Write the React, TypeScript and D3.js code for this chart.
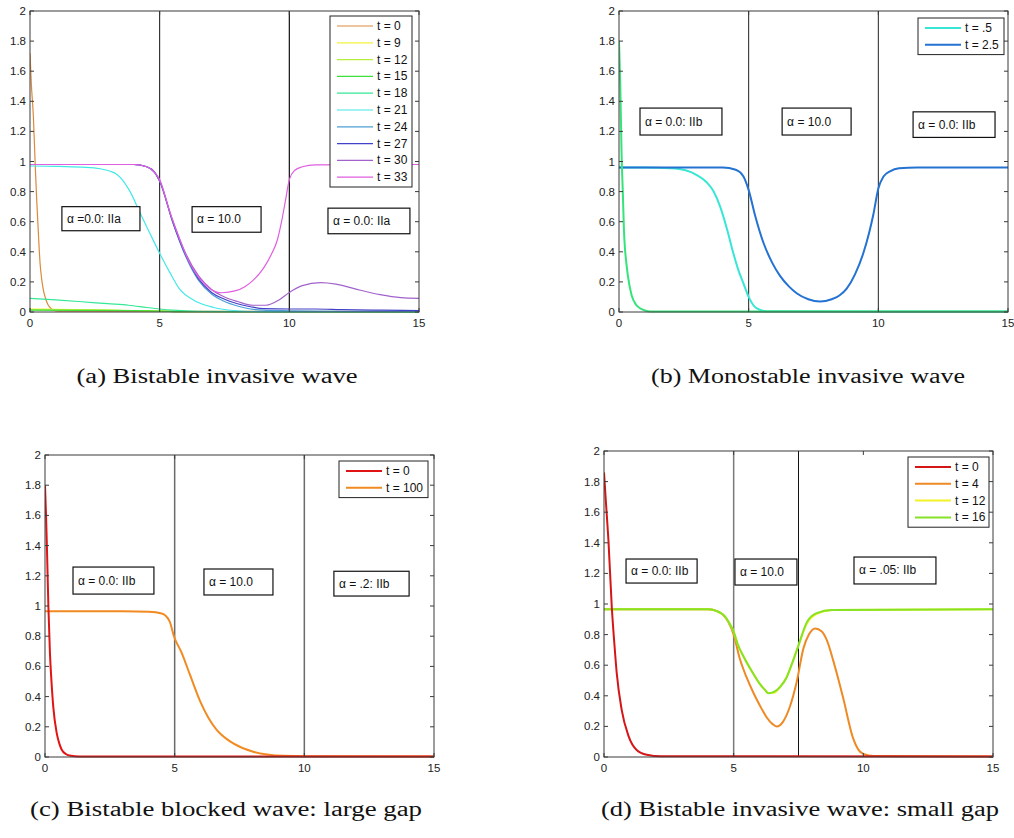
import React from 'react';
import * as d3 from 'd3';

type Pt = [number, number];

const xTickValues = [0, 5, 10, 15];
const xTickLabels = ['0', '5', '10', '15'];
const yTickValues = [0, 0.2, 0.4, 0.6, 0.8, 1, 1.2, 1.4, 1.6, 1.8, 2];
const yTickLabels = ['0', '0.2', '0.4', '0.6', '0.8', '1', '1.2', '1.4', '1.6', '1.8', '2'];

// (a) bistable invasive wave
const aLabels = ['t = 0', 't = 9', 't = 12', 't = 15', 't = 18', 't = 21', 't = 24', 't = 27', 't = 30', 't = 33'];
const aT0: Pt[] = [[0, 1.72], [0.05, 1.52], [0.13, 1.3], [0.2, 0.98], [0.26, 0.74], [0.33, 0.5], [0.39, 0.32], [0.45, 0.22], [0.51, 0.15], [0.6, 0.09], [0.69, 0.05], [0.8, 0.025], [0.9, 0.012], [1.1, 0.005], [15, 0.003]];
const aT9: Pt[] = [[0, 0.02], [1, 0.018], [3, 0.012], [5, 0.006], [6, 0.002], [15, 0.001]];
const aT12: Pt[] = [[0, 0.016], [2, 0.014], [4, 0.01], [5, 0.006], [6, 0.002], [15, 0.001]];
const aT15: Pt[] = [[0, 0.012], [2, 0.011], [4, 0.009], [5, 0.006], [6, 0.002], [15, 0.001]];
const aT18: Pt[] = [[0, 0.09], [1, 0.08], [2, 0.068], [3, 0.055], [3.8, 0.045], [4.5, 0.03], [5, 0.02], [5.5, 0.012], [6.5, 0.004], [8, 0.002], [15, 0.001]];
const aT21: Pt[] = [[0, 0.97], [1, 0.968], [2, 0.962], [2.7, 0.952], [3.1, 0.935], [3.34, 0.915], [3.6, 0.87], [3.86, 0.8], [4.24, 0.66], [4.63, 0.52], [5.0, 0.39], [5.4, 0.26], [5.78, 0.15], [6.3, 0.08], [7.08, 0.03], [7.85, 0.01], [9, 0.003], [15, 0.002]];
const aT24: Pt[] = [[0, 0.98], [4, 0.98], [4.5, 0.965], [4.8, 0.93], [5, 0.87], [5.5, 0.6], [6, 0.37], [6.5, 0.21], [7, 0.12], [7.5, 0.07], [8, 0.04], [8.5, 0.02], [9, 0.012], [10, 0.008], [12, 0.005], [15, 0.004]];
const aT27: Pt[] = [[0, 0.98], [4, 0.98], [4.5, 0.965], [4.8, 0.93], [5, 0.87], [5.5, 0.6], [6, 0.38], [6.5, 0.22], [7, 0.13], [7.5, 0.085], [8, 0.055], [8.5, 0.035], [9, 0.022], [10, 0.02], [11, 0.02], [12, 0.016], [13.5, 0.012], [15, 0.01]];
const aT30: Pt[] = [[0, 0.98], [4, 0.98], [4.5, 0.965], [4.8, 0.93], [5, 0.87], [5.5, 0.61], [6, 0.39], [6.5, 0.24], [7, 0.15], [7.5, 0.1], [8, 0.07], [8.6, 0.045], [9.1, 0.045], [9.6, 0.08], [10, 0.13], [10.5, 0.175], [11.2, 0.195], [11.8, 0.185], [12.5, 0.155], [13.5, 0.115], [14.3, 0.095], [15, 0.09]];
const aT33: Pt[] = [[0, 0.98], [4, 0.98], [4.5, 0.965], [4.8, 0.93], [5, 0.88], [5.4, 0.66], [5.78, 0.48], [6.17, 0.32], [6.55, 0.22], [6.94, 0.155], [7.4, 0.128], [7.9, 0.14], [8.3, 0.17], [8.6, 0.21], [9.0, 0.29], [9.3, 0.38], [9.54, 0.48], [9.7, 0.6], [9.85, 0.74], [10, 0.88], [10.2, 0.94], [10.5, 0.965], [11, 0.978], [15, 0.98]];
const aNotes = ['\u03b1 =0.0: IIa', '\u03b1 = 10.0', '\u03b1 = 0.0: IIa'];

// (b) monostable invasive wave
const bLabels = ['t = .5', 't = 2.5'];
const bStart: Pt[] = [[0, 1.8], [0.05, 1.5], [0.1, 1.05], [0.15, 0.78], [0.19, 0.55], [0.3, 0.3], [0.4, 0.18], [0.49, 0.11], [0.65, 0.05], [0.81, 0.025], [1.0, 0.01], [1.2, 0.004], [15, 0.003]];
const bT05: Pt[] = [[0, 0.96], [1, 0.96], [2, 0.955], [2.6, 0.94], [3.0, 0.91], [3.38, 0.862], [3.65, 0.8], [3.9, 0.7], [4.15, 0.56], [4.41, 0.39], [4.6, 0.28], [4.8, 0.19], [5.0, 0.1], [5.3, 0.025], [5.7, 0.005], [15, 0.003]];
const bT25: Pt[] = [[0, 0.96], [4, 0.96], [4.5, 0.945], [4.8, 0.9], [5.0, 0.81], [5.25, 0.64], [5.57, 0.46], [5.9, 0.33], [6.21, 0.24], [6.55, 0.17], [6.85, 0.125], [7.3, 0.085], [7.75, 0.07], [8.2, 0.085], [8.5, 0.11], [8.78, 0.155], [9.1, 0.25], [9.42, 0.39], [9.65, 0.53], [9.81, 0.65], [10.0, 0.82], [10.2, 0.9], [10.45, 0.935], [10.8, 0.955], [11.5, 0.96], [15, 0.96]];
const bNotes = ['\u03b1 = 0.0: IIb', '\u03b1 = 10.0', '\u03b1 = 0.0: IIb'];

// (c) bistable blocked wave: large gap
const cLabels = ['t = 0', 't = 100'];
const cT0: Pt[] = [[0, 1.8], [0.04, 1.6], [0.08, 1.35], [0.13, 1.0], [0.19, 0.69], [0.25, 0.5], [0.32, 0.33], [0.45, 0.16], [0.55, 0.09], [0.64, 0.05], [0.8, 0.02], [1.0, 0.008], [1.3, 0.004], [15, 0.004]];
const cT100: Pt[] = [[0, 0.965], [3, 0.965], [4, 0.962], [4.5, 0.95], [4.8, 0.9], [4.97, 0.8], [5.27, 0.69], [5.6, 0.54], [5.98, 0.37], [6.3, 0.26], [6.62, 0.18], [7.0, 0.12], [7.26, 0.09], [8.03, 0.035], [9.2, 0.008], [10, 0.005], [15, 0.004]];
const cNotes = ['\u03b1 = 0.0: IIb', '\u03b1 = 10.0', '\u03b1 = .2: IIb'];

// (d) bistable invasive wave: small gap
const dLabels = ['t = 0', 't = 4', 't = 12', 't = 16'];
const dT0: Pt[] = [[0, 1.86], [0.08, 1.65], [0.17, 1.42], [0.3, 0.98], [0.4, 0.74], [0.49, 0.55], [0.68, 0.31], [0.94, 0.14], [1.26, 0.046], [1.65, 0.015], [2.2, 0.005], [15, 0.004]];
const dT4: Pt[] = [[0, 0.965], [4, 0.965], [4.4, 0.95], [4.8, 0.88], [5.0, 0.8], [5.24, 0.64], [5.5, 0.52], [5.76, 0.42], [6.0, 0.34], [6.27, 0.26], [6.5, 0.215], [6.66, 0.2], [6.9, 0.23], [7.17, 0.33], [7.43, 0.49], [7.69, 0.71], [7.9, 0.8], [8.14, 0.84], [8.4, 0.82], [8.6, 0.76], [8.84, 0.63], [9.05, 0.5], [9.23, 0.38], [9.61, 0.12], [9.8, 0.05], [10.0, 0.02], [10.4, 0.006], [15, 0.004]];
const dT12: Pt[] = [[0, 0.965], [4, 0.965], [4.6, 0.93], [4.85, 0.87], [5, 0.82], [5.15, 0.74], [5.4, 0.65], [5.7, 0.56], [6.0, 0.48], [6.2, 0.44], [6.34, 0.418], [6.55, 0.42], [6.8, 0.46], [7.04, 0.52], [7.25, 0.61], [7.5, 0.73], [7.82, 0.87], [8.2, 0.935], [8.8, 0.96], [15, 0.965]];
const dT16: Pt[] = [[0, 0.965], [4, 0.965], [4.6, 0.93], [4.85, 0.87], [5, 0.82], [5.15, 0.74], [5.4, 0.65], [5.7, 0.56], [6.0, 0.48], [6.2, 0.44], [6.34, 0.416], [6.55, 0.425], [6.8, 0.46], [7.04, 0.52], [7.25, 0.61], [7.5, 0.73], [7.82, 0.88], [8.2, 0.94], [8.8, 0.96], [15, 0.965]];
const dNotes = ['\u03b1 = 0.0: IIb', '\u03b1 = 10.0', '\u03b1 = .05: IIb'];

const captions = [
  '(a) Bistable invasive wave',
  '(b) Monostable invasive wave',
  '(c) Bistable blocked wave: large gap',
  '(d) Bistable invasive wave: small gap',
];

const sans = '"Liberation Sans", Arial, sans-serif';

type Series = { label?: string; values: Pt[]; color: string };
type Note = { text: string; x0: number; x1: number; y0: number; y1: number };
type PanelCfg = {
  id: string;
  left: number; right: number; top: number; bottom: number;
  series: Series[];
  order: number[];
  lineWidth: number;
  dividers: number[];
  dividerColors: string[];
  dividerWidths: number[];
  notes: Note[];
  legend: { right: number; top: number; width: number };
  caption: string; capX: number; capY: number; capW: number;
};

const notesAt = (texts: string[], boxes: number[][]): Note[] =>
  texts.map((text, i) => ({ text, x0: boxes[i][0], x1: boxes[i][1], y0: boxes[i][2], y1: boxes[i][3] }));

const panels: PanelCfg[] = [
  {
    id: 'a', left: 30, right: 419, top: 11, bottom: 312,
    series: [
      { label: aLabels[0], values: aT0, color: '#dc8a3a' },
      { label: aLabels[1], values: aT9, color: '#f2f23a' },
      { label: aLabels[2], values: aT12, color: '#b6ee3c' },
      { label: aLabels[3], values: aT15, color: '#3ee03e' },
      { label: aLabels[4], values: aT18, color: '#34e896' },
      { label: aLabels[5], values: aT21, color: '#44e8e8' },
      { label: aLabels[6], values: aT24, color: '#4c9ed6' },
      { label: aLabels[7], values: aT27, color: '#4242c8' },
      { label: aLabels[8], values: aT30, color: '#a262cc' },
      { label: aLabels[9], values: aT33, color: '#e05ee0' },
    ],
    order: [0, 1, 2, 3, 4, 5, 6, 7, 8, 9],
    lineWidth: 1.2,
    dividers: [5, 10], dividerColors: ['#111', '#111'], dividerWidths: [1, 1.2],
    notes: notesAt(aNotes, [[1.23, 4.24, 0.7, 0.54], [6.25, 8.91, 0.7, 0.53], [11.49, 14.65, 0.69, 0.52]]),
    legend: { right: 412, top: 16, width: 82 },
    caption: captions[0], capX: 217, capY: 383, capW: 281,
  },
  {
    id: 'b', left: 619, right: 1008, top: 11, bottom: 312,
    series: [
      { label: bLabels[0], values: bT05, color: '#38e6d6' },
      { label: bLabels[1], values: bT25, color: '#2472d2' },
      { values: bStart, color: '#34e47a' },
    ],
    order: [0, 1, 2],
    lineWidth: 2,
    dividers: [5, 10], dividerColors: ['#222', '#222'], dividerWidths: [1, 1],
    notes: notesAt(bNotes, [[0.81, 3.97, 1.355, 1.176], [6.29, 8.95, 1.355, 1.176], [11.34, 14.5, 1.33, 1.16]]),
    legend: { right: 1004, top: 18, width: 86 },
    caption: captions[1], capX: 808, capY: 383, capW: 314,
  },
  {
    id: 'c', left: 45, right: 434, top: 455, bottom: 757,
    series: [
      { label: cLabels[0], values: cT0, color: '#e01414' },
      { label: cLabels[1], values: cT100, color: '#f28a22' },
    ],
    order: [1, 0],
    lineWidth: 2,
    dividers: [5, 10], dividerColors: ['#6a6a6a', '#6a6a6a'], dividerWidths: [1.5, 1.5],
    notes: notesAt(cNotes, [[1.08, 4.2, 1.258, 1.079], [6.13, 8.79, 1.245, 1.073], [11.14, 14.04, 1.23, 1.066]]),
    legend: { right: 428, top: 461, width: 89 },
    caption: captions[2], capX: 226, capY: 816, capW: 392,
  },
  {
    id: 'd', left: 604, right: 993, top: 451, bottom: 757,
    series: [
      { label: dLabels[0], values: dT0, color: '#d41616' },
      { label: dLabels[1], values: dT4, color: '#ee8a26' },
      { label: dLabels[2], values: dT12, color: '#f2f226' },
      { label: dLabels[3], values: dT16, color: '#86e226' },
    ],
    order: [1, 2, 3, 0],
    lineWidth: 2,
    dividers: [5, 7.5], dividerColors: ['#7a7a7a', '#111'], dividerWidths: [1.5, 1],
    notes: notesAt(dNotes, [[0.85, 3.59, 1.294, 1.137], [5.05, 7.44, 1.294, 1.124], [9.64, 12.8, 1.307, 1.131]]),
    legend: { right: 989, top: 457, width: 81 },
    caption: captions[3], capX: 800, capY: 816, capW: 398,
  },
];

const Panel = ({ cfg }: { cfg: PanelCfg }) => {
  const x = d3.scaleLinear().domain([0, 15]).range([cfg.left, cfg.right]);
  const y = d3.scaleLinear().domain([0, 2]).range([cfg.bottom, cfg.top]);
  const path = d3.line<Pt>().x(d => x(d[0])).y(d => y(d[1])).curve(d3.curveMonotoneX);
  const tick = 4;
  const legendItems = cfg.series.filter(s => s.label);
  const rowH = 16.8;
  const legLeft = cfg.legend.right - cfg.legend.width;
  const legH = legendItems.length * rowH + 3;

  return (
    <g>
      <clipPath id={`clip-${cfg.id}`}>
        <rect x={cfg.left} y={cfg.top} width={cfg.right - cfg.left} height={cfg.bottom - cfg.top + 1} />
      </clipPath>
      <rect x={cfg.left} y={cfg.top} width={cfg.right - cfg.left} height={cfg.bottom - cfg.top} fill="#fff" />

      {cfg.dividers.map((d, i) => (
        <line key={d} x1={x(d)} x2={x(d)} y1={cfg.top} y2={cfg.bottom}
          stroke={cfg.dividerColors[i]} strokeWidth={cfg.dividerWidths[i]} />
      ))}

      <g clipPath={`url(#clip-${cfg.id})`}>
        {cfg.order.map(i => (
          <path key={i} d={path(cfg.series[i].values) || ''} fill="none"
            stroke={cfg.series[i].color} strokeWidth={cfg.lineWidth} strokeLinejoin="round" />
        ))}
      </g>

      {/* axes box with inward ticks on all sides */}
      <rect x={cfg.left} y={cfg.top} width={cfg.right - cfg.left} height={cfg.bottom - cfg.top}
        fill="none" stroke="#3a3a3a" strokeWidth={1} />
      {yTickValues.map(v => (
        <g key={`y${v}`}>
          <line x1={cfg.left} x2={cfg.left + tick} y1={y(v)} y2={y(v)} stroke="#3a3a3a" />
          <line x1={cfg.right} x2={cfg.right - tick} y1={y(v)} y2={y(v)} stroke="#3a3a3a" />
        </g>
      ))}
      {xTickValues.map(v => (
        <g key={`x${v}`}>
          <line x1={x(v)} x2={x(v)} y1={cfg.bottom} y2={cfg.bottom - tick} stroke="#3a3a3a" />
          <line x1={x(v)} x2={x(v)} y1={cfg.top} y2={cfg.top + tick} stroke="#3a3a3a" />
        </g>
      ))}
      {yTickValues.map((v, i) => (
        <text key={`yl${v}`} x={cfg.left - 4} y={y(v) + 4} textAnchor="end"
          fontFamily={sans} fontSize={11.5} fill="#222">{yTickLabels[i]}</text>
      ))}
      {xTickValues.map((v, i) => (
        <text key={`xl${v}`} x={x(v)} y={cfg.bottom + 15} textAnchor="middle"
          fontFamily={sans} fontSize={11.5} fill="#222">{xTickLabels[i]}</text>
      ))}

      {cfg.notes.map(n => (
        <g key={n.text + n.x0}>
          <rect x={x(n.x0)} y={y(n.y0)} width={x(n.x1) - x(n.x0)} height={y(n.y1) - y(n.y0)}
            fill="#fff" stroke="#111" strokeWidth={1.2} />
          <text x={x(n.x0) + 5} y={(y(n.y0) + y(n.y1)) / 2 + 4} fontFamily={sans}
            fontSize={12} fill="#111">{n.text}</text>
        </g>
      ))}

      <rect x={legLeft} y={cfg.legend.top} width={cfg.legend.width} height={legH}
        fill="#fff" stroke="#222" strokeWidth={1} />
      {legendItems.map((s, i) => {
        const cy = cfg.legend.top + 10 + i * rowH;
        return (
          <g key={s.label}>
            <line x1={legLeft + 7} x2={legLeft + 43} y1={cy} y2={cy} stroke={s.color} strokeWidth={cfg.lineWidth} />
            <text x={legLeft + 47} y={cy + 4} fontFamily={sans} fontSize={12} fill="#111">{s.label}</text>
          </g>
        );
      })}

      <text x={cfg.capX} y={cfg.capY} textAnchor="middle" fontFamily='"Liberation Serif", "Times New Roman", serif'
        fontSize={20} textLength={cfg.capW} lengthAdjust="spacingAndGlyphs" fill="#111">{cfg.caption}</text>
    </g>
  );
};

const App = () => (
  <svg width={1014} height={838} style={{ position: 'absolute', left: 0, top: 0, background: '#fff' }}>
    <rect width={1014} height={838} fill="#fff" />
    {panels.map(p => <Panel key={p.id} cfg={p} />)}
  </svg>
);

export default App;
